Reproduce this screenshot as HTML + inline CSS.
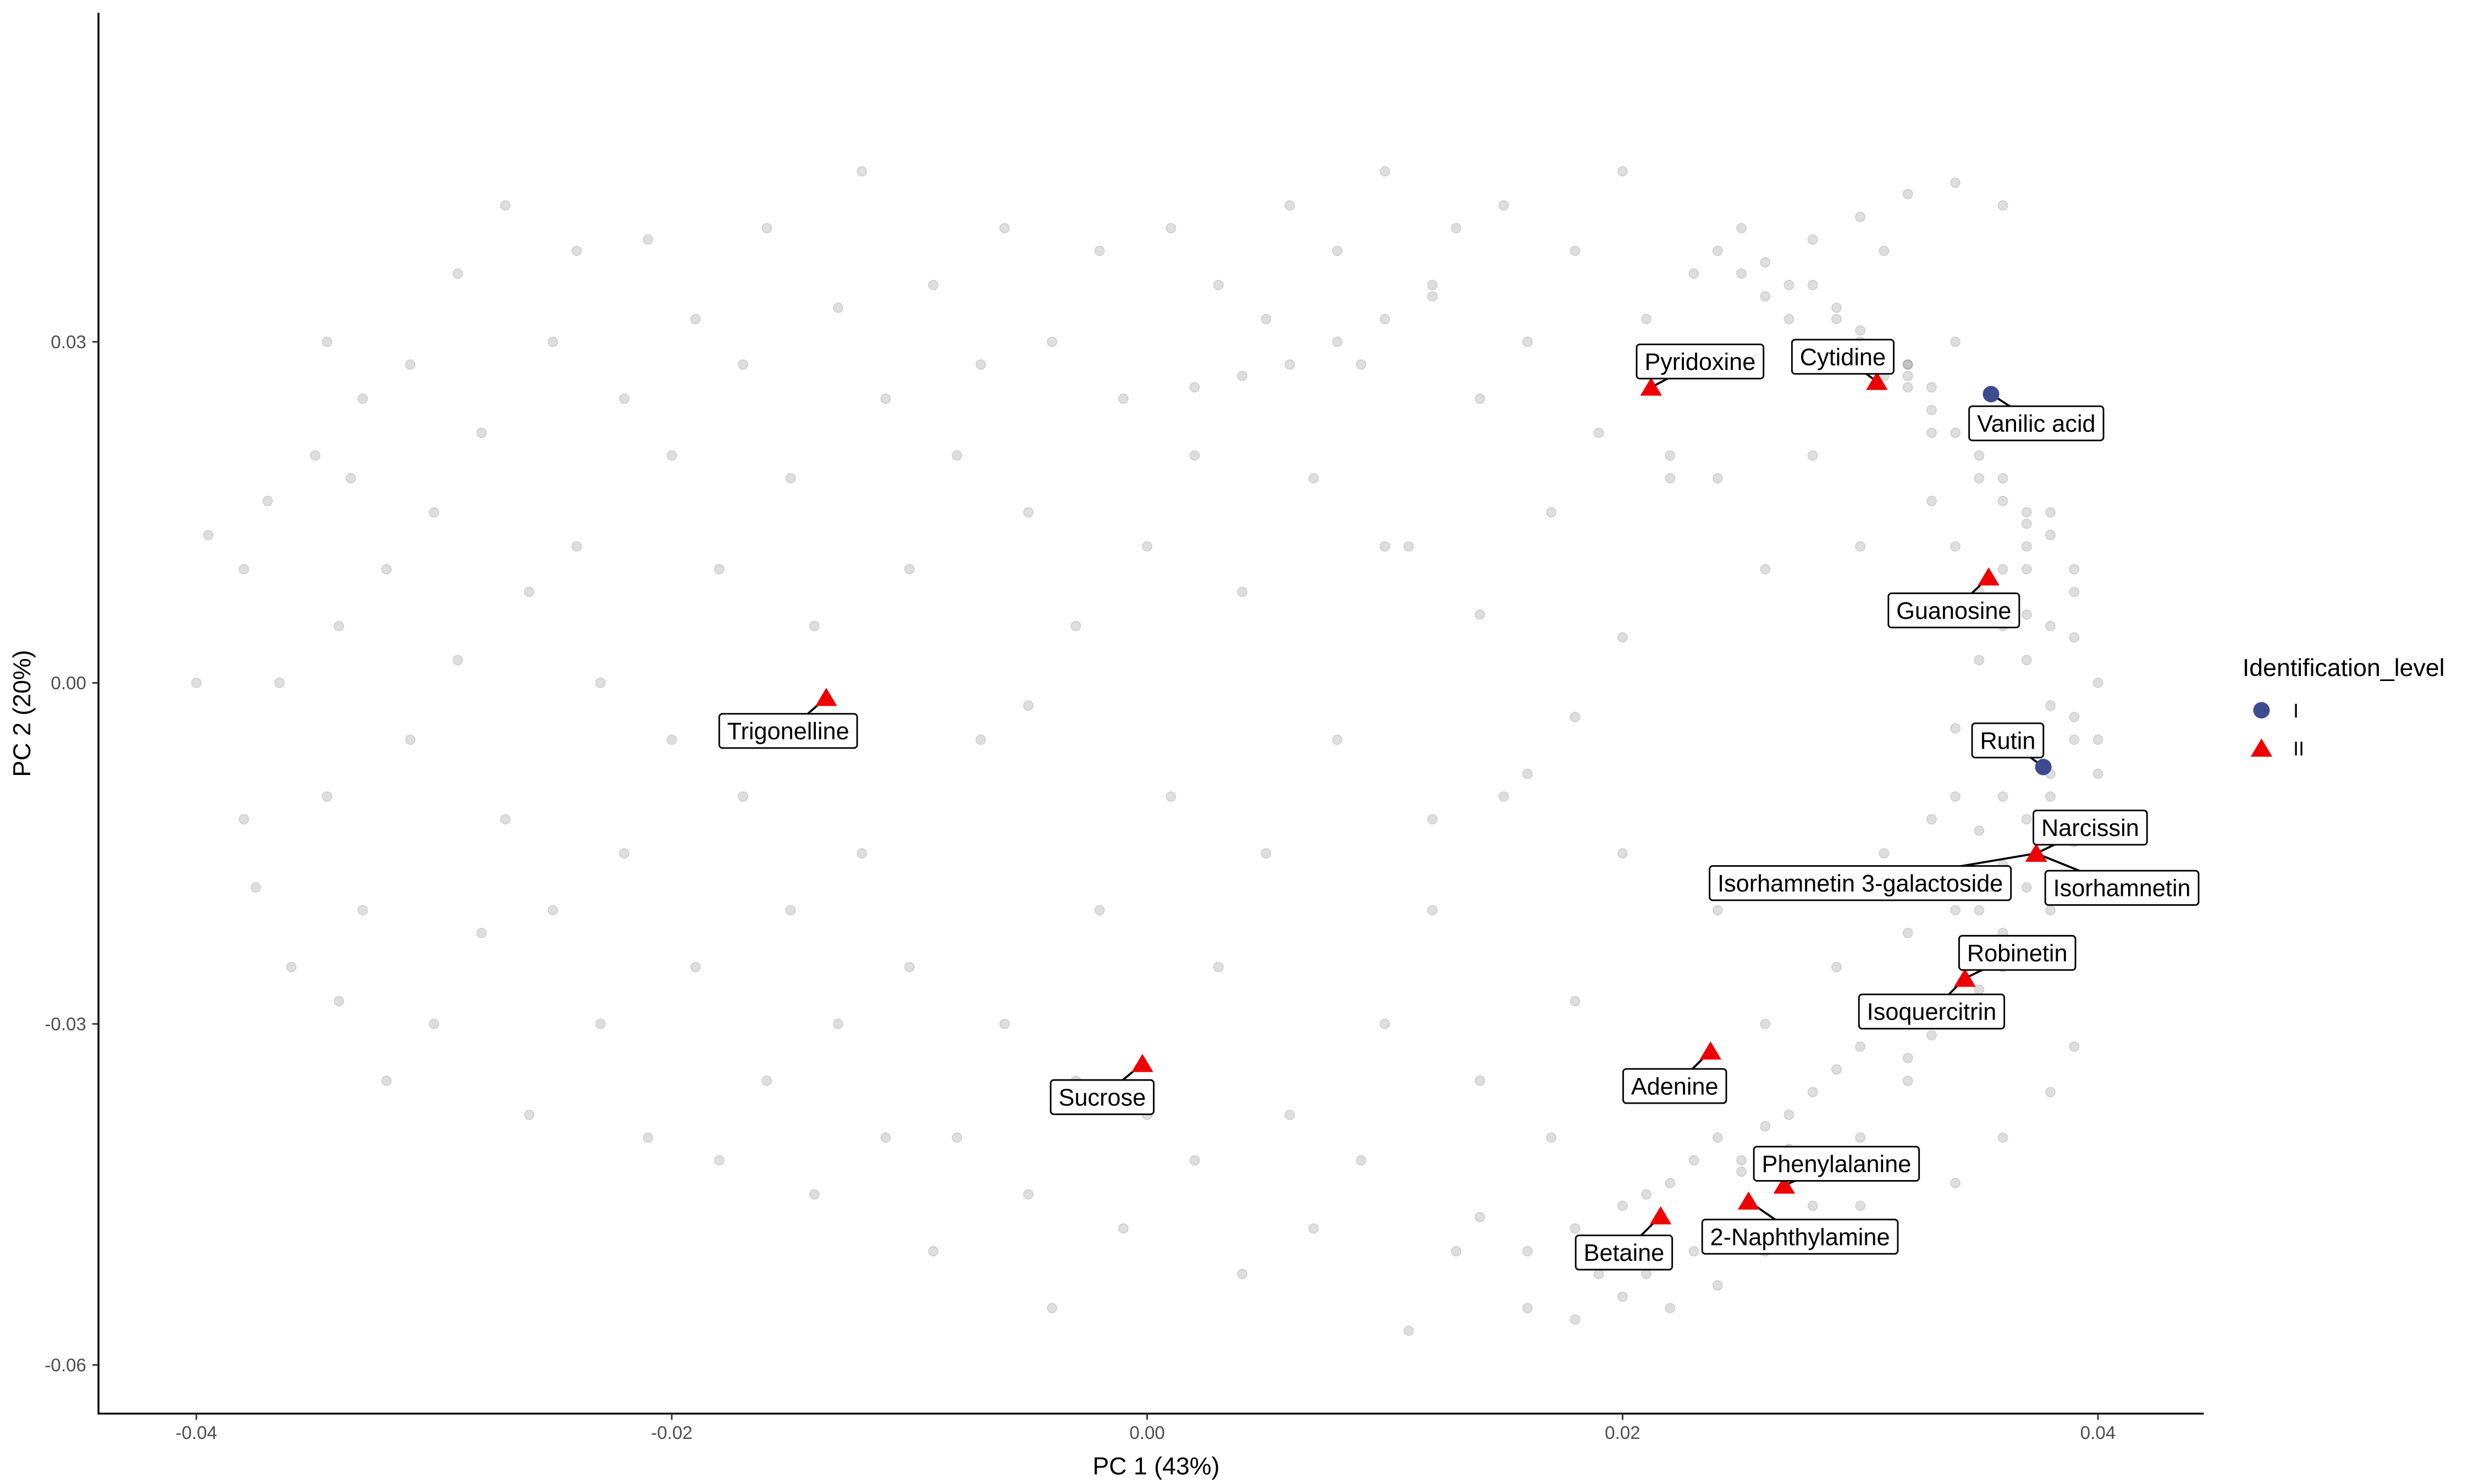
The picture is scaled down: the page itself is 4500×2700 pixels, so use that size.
<!DOCTYPE html>
<html><head><meta charset="utf-8"><style>
html,body{margin:0;padding:0;background:#fff}
svg{display:block;font-family:"Liberation Sans",Arial,sans-serif}
</style></head><body>
<svg id="chart" width="4500" height="2700" viewBox="0 0 1560 936">
<g id="bg"></g>
<g id="axes"></g>
<g id="hl"></g>
<g id="lg"></g>
</svg>
<script>
const bgX=[-0.040,-0.0395,-0.038,-0.038,-0.0375,-0.037,-0.0365,-0.036,-0.035,-0.0345,-0.0345,-0.034,-0.034,-0.0335,-0.033,-0.033,-0.032,-0.032,-0.031,-0.031,-0.030,-0.030,-0.029,-0.029,-0.028,-0.028,-0.027,-0.027,-0.026,-0.026,-0.025,-0.025,-0.024,-0.024,-0.023,-0.023,-0.022,-0.022,-0.021,-0.021,-0.020,-0.020,-0.019,-0.019,-0.018,-0.018,-0.017,-0.017,-0.016,-0.016,-0.015,-0.015,-0.014,-0.014,-0.013,-0.013,-0.012,-0.012,-0.011,-0.011,-0.010,-0.010,-0.009,-0.009,-0.008,-0.008,-0.007,-0.007,-0.006,-0.006,-0.005,-0.005,-0.004,-0.004,-0.003,-0.003,-0.002,-0.002,-0.001,-0.001,0.000,0.000,0.001,0.001,0.002,0.002,0.003,0.003,0.004,0.004,0.005,0.005,0.006,0.006,0.007,0.007,0.008,0.008,0.009,0.009,0.010,0.010,0.011,0.011,0.012,0.012,0.013,0.013,0.014,0.014,0.015,0.015,0.016,0.016,0.017,0.017,0.018,0.018,0.019,0.019,0.020,0.020,0.021,0.021,0.022,0.022,0.023,0.023,0.024,0.024,0.025,0.025,0.026,0.026,0.027,0.027,0.028,0.028,0.029,0.029,0.030,0.030,0.031,0.031,0.032,0.032,0.033,0.033,0.034,0.034,0.035,0.035,0.036,0.036,0.037,0.037,0.038,0.038,0.039,0.039,0.040,0.040,0.036,0.037,0.038,0.039,0.035,0.034,0.033,0.032,0.031,0.030,0.038,0.037,0.036,0.035,0.034,0.033,0.032,0.039,0.038,0.036,0.034,0.030,0.028,0.026,0.024,0.022,0.020,0.018,0.016,0.014,0.012,0.010,0.008,0.006,0.004,0.002,0.022,0.024,0.026,0.028,0.030,0.032,0.034,0.036,0.020,0.018,0.016,0.014,0.012,0.010,-0.005,-0.010,-0.015,-0.020,-0.025,-0.030,-0.035];
const bgY=[0.000,0.013,-0.012,0.010,-0.018,0.016,0.000,-0.025,0.020,-0.010,0.030,0.005,-0.028,0.018,-0.020,0.025,0.010,-0.035,0.028,-0.005,0.015,-0.030,0.036,0.002,-0.022,0.022,0.042,-0.012,0.008,-0.038,0.030,-0.020,0.012,0.038,-0.030,0.000,0.025,-0.015,0.039,-0.040,0.020,-0.005,0.032,-0.025,0.010,-0.042,0.028,-0.010,0.040,-0.035,0.018,-0.020,0.005,-0.045,0.033,-0.030,0.045,-0.015,0.025,-0.040,0.010,-0.025,0.035,-0.050,0.020,-0.040,0.028,-0.005,0.040,-0.030,0.015,-0.045,0.030,-0.055,0.005,-0.035,0.038,-0.020,0.025,-0.048,0.012,-0.038,0.040,-0.010,0.020,-0.042,0.035,-0.025,0.008,-0.052,0.032,-0.015,0.042,-0.038,0.018,-0.048,0.038,-0.005,0.028,-0.042,0.045,-0.030,0.012,-0.057,0.035,-0.020,0.040,-0.050,0.025,-0.035,0.042,-0.010,0.030,-0.055,0.015,-0.040,0.038,-0.028,0.022,-0.052,0.045,-0.015,0.032,-0.045,0.018,-0.035,0.036,-0.050,0.028,-0.020,0.040,-0.042,0.010,-0.030,0.035,-0.038,0.020,-0.046,0.032,-0.025,0.012,-0.040,0.038,-0.015,0.028,-0.035,0.022,-0.030,0.030,-0.020,0.018,-0.025,0.024,-0.010,0.014,-0.018,0.005,-0.010,-0.003,0.008,0.000,-0.005,0.016,0.010,-0.008,0.004,0.022,-0.030,0.026,0.028,0.027,0.029,0.015,0.012,0.006,0.002,-0.004,-0.012,-0.022,-0.032,-0.036,-0.040,-0.044,-0.046,-0.048,-0.050,-0.053,-0.055,-0.054,-0.056,-0.050,-0.047,0.034,0.032,0.030,0.028,0.027,0.026,0.020,0.018,0.037,0.039,0.041,0.043,0.044,0.042,0.004,-0.003,-0.008,0.006,-0.012,0.012,-0.002];
const bgX2=[0.030,0.031,0.032,0.033,0.034,0.035,0.036,0.037,0.038,0.039,
0.033,0.034,0.035,0.036,0.037,0.038,0.039,0.040,0.036,0.037,
0.034,0.035,0.036,0.037,0.038,0.039,0.035,0.036,0.037,0.038,
0.028,0.029,0.030,0.031,0.032,0.033,0.034,0.035,0.036,0.037,
0.024,0.025,0.026,0.027,0.028,0.029,0.030,0.031,0.032,0.033,
0.018,0.019,0.020,0.021,0.022,0.023,0.024,0.025,0.026,0.027];
const bgY2=[0.030,0.028,0.026,0.024,0.022,0.020,0.018,0.015,0.013,0.010,
0.016,0.012,0.008,0.005,0.002,-0.002,-0.005,-0.008,0.010,0.006,
-0.010,-0.013,-0.016,-0.012,-0.018,-0.014,-0.020,-0.022,-0.024,-0.020,
0.035,0.033,0.031,0.029,0.027,-0.028,-0.030,-0.027,-0.025,-0.023,
0.038,0.036,0.034,0.032,-0.036,-0.034,-0.032,-0.030,-0.033,-0.031,
-0.048,-0.050,-0.046,-0.052,-0.044,-0.042,-0.040,-0.043,-0.039,-0.041];
const hlName=["Trigonelline","Sucrose","Pyridoxine","Cytidine","Vanilic acid","Guanosine","Rutin","Narcissin","Isorhamnetin 3-galactoside","Isorhamnetin","Robinetin","Isoquercitrin","Adenine","Phenylalanine","2-Naphthylamine","Betaine"];
const hlX=[-0.0135,-0.0002,0.0212,0.0307,0.0355,0.0354,0.0377,0.0374,0.0374,0.0374,0.0344,0.0344,0.0237,0.0268,0.0253,0.0216];
const hlY=[-0.0013,-0.0335,0.0260,0.0265,0.0254,0.0093,-0.0074,-0.0150,-0.0150,-0.0150,-0.0260,-0.0260,-0.0324,-0.0442,-0.0456,-0.0469];
const hlLevel=["II","II","II","II","I","II","I","II","II","II","II","II","II","II","II","II"];
const labX=[497,695,1072,1162,1284,1232,1266,1318,1173,1338,1272,1218,1056,1158,1135,1024];
const labY=[461,692,228,225,267,385,467,522,557,560,601,638,685,734,780,790];
const xTicks=[-0.04,-0.02,0.00,0.02,0.04];
const yTicks=[0.03,0.00,-0.03,-0.06];
const xTickLabels=["-0.04","-0.02","0.00","0.02","0.04"];
const yTickLabels=["0.03","0.00","-0.03","-0.06"];

const NS="http://www.w3.org/2000/svg";
const sx=v=>123.8+(v+0.04)/0.08*1199.1;
const sy=v=>430.7-v/0.03*215.1;
function mk(tag,attrs,parent){const e=document.createElementNS(NS,tag);for(const k in attrs)e.setAttribute(k,attrs[k]);parent.appendChild(e);return e;}
const bg=document.getElementById('bg'),ax=document.getElementById('axes'),hl=document.getElementById('hl'),lg=document.getElementById('lg');
function drawBg(X,Y){
 const n=Math.min(X.length,Y.length);
 for(let i=0;i<n;i++){
  const c=mk('circle',{cx:sx(X[i]),cy:sy(Y[i]),r:3,fill:'rgba(0,0,0,0.13)',stroke:'rgba(0,0,0,0.12)','stroke-width':0.6},bg);
  
  
 }
}
drawBg(bgX,bgY);drawBg(bgX2,bgY2);
let l=mk('line',{x1:62.1,y1:8,x2:62.1,y2:891.6,stroke:'#000','stroke-width':1.2},ax);


l=mk('line',{x1:61.5,y1:891.6,x2:1389.6,y2:891.6,stroke:'#000','stroke-width':1.2},ax);


xTicks.forEach((v,i)=>{
 const x=sx(v);
 const t=mk('line',{x1:x,y1:891.6,x2:x,y2:895.5,stroke:'#333','stroke-width':1},ax);
 
 
 const tx=mk('text',{x:x,y:907.6,'font-size':11.5,fill:'#4d4d4d','text-anchor':'middle'},ax);tx.textContent=xTickLabels[i];
 
 
});
yTicks.forEach((v,i)=>{
 const y=sy(v);
 const t=mk('line',{x1:58.2,y1:y,x2:62,y2:y,stroke:'#333','stroke-width':1},ax);
 
 
 const tx=mk('text',{x:54.4,y:y+4,'font-size':11.5,fill:'#4d4d4d','text-anchor':'end'},ax);tx.textContent=yTickLabels[i];
 
 
});
let t=mk('text',{x:729,y:930,'font-size':15.5,'text-anchor':'middle',fill:'#000'},ax);t.textContent='PC 1 (43%)';


t=mk('text',{x:0,y:0,'font-size':15.5,'text-anchor':'middle',fill:'#000',transform:'translate(19,450) rotate(-90)'},ax);t.textContent='PC 2 (20%)';


function tri(cx,cy,s){return `${cx},${cy-s} ${cx-s*1.1},${cy+s*0.85} ${cx+s*1.1},${cy+s*0.85}`;}
for(let i=0;i<hlName.length;i++){
 const px=sx(hlX[i]),py=sy(hlY[i]);
 const sg=mk('line',{x1:px,y1:py,x2:labX[i],y2:labY[i],stroke:'#000','stroke-width':1.3},hl);
 
 
}
for(let i=0;i<hlName.length;i++){
 const px=sx(hlX[i]),py=sy(hlY[i]);
 let m;
 if(hlLevel[i]==='I'){m=mk('circle',{cx:px,cy:py,r:5.2,fill:'#3d4b91'},hl);}
 else{m=mk('polygon',{points:tri(px,py,6.2),fill:'#ee0000'},hl);}
 
 
}
for(let i=0;i<hlName.length;i++){
 const g=mk('g',{},hl);
 
 
 const tx=mk('text',{x:labX[i],y:labY[i]+5.3,'font-size':15,'text-anchor':'middle',fill:'#000'},g);tx.textContent=hlName[i];
 const w=tx.getComputedTextLength();
 const r=mk('rect',{x:labX[i]-w/2-5,y:labY[i]-10.8,width:w+10,height:21.6,rx:2,fill:'#fff',stroke:'#000','stroke-width':1},g);
 g.insertBefore(r,tx);
}
t=mk('text',{x:1414,y:426.4,'font-size':15.5,fill:'#000'},lg);t.textContent='Identification_level';


let m=mk('circle',{cx:1426,cy:448,r:5.2,fill:'#3d4b91'},lg);


t=mk('text',{x:1446,y:452.5,'font-size':12.5,fill:'#000'},lg);t.textContent='I';


m=mk('polygon',{points:tri(1426,472,6.2),fill:'#ee0000'},lg);


t=mk('text',{x:1446,y:476.5,'font-size':12.5,fill:'#000'},lg);t.textContent='II';


</script>
</body></html>
